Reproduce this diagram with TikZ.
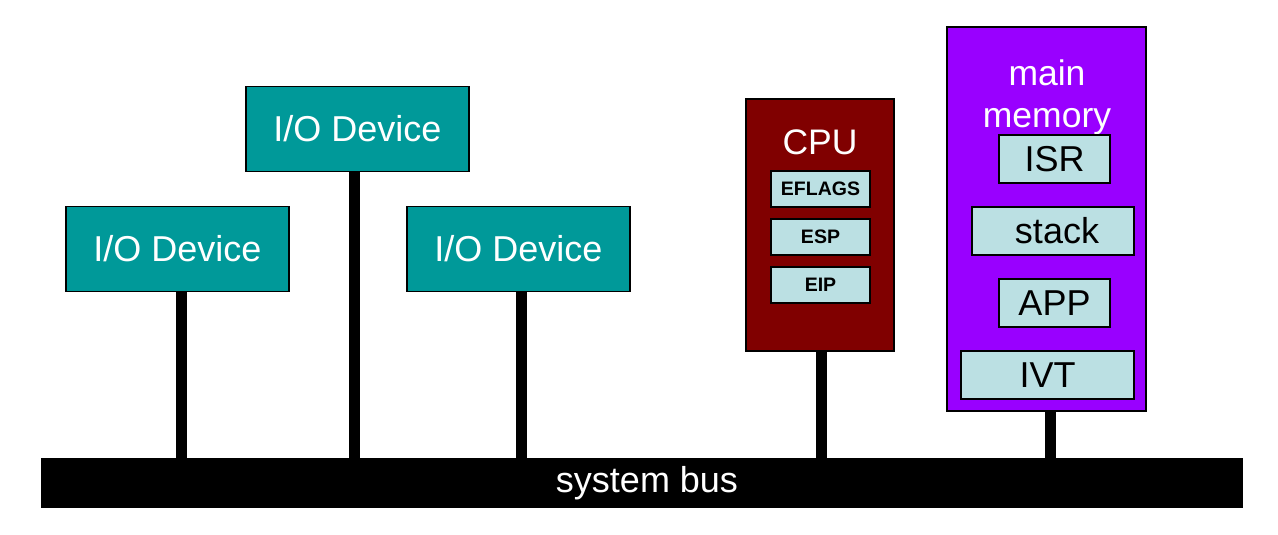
\documentclass[tikz,border=0pt]{standalone}
\usepackage{fontspec}
\setmainfont{Liberation Sans}
\definecolor{teal1}{HTML}{009999}
\definecolor{cpured}{HTML}{800000}
\definecolor{mempurple}{HTML}{9900FF}
\definecolor{regblue}{HTML}{BBE0E3}
\begin{document}
\begin{tikzpicture}[x=1pt,y=-1pt,
  box/.style={draw=black,line width=1.8pt,inner sep=0pt,outer sep=0pt},
  iodev/.style={box,fill=teal1,text=white,minimum width=223pt,minimum height=85pt,font=\fontsize{36}{40}\selectfont},
  reg/.style={box,fill=regblue,text=black,minimum width=99pt,minimum height=36pt,font=\fontsize{19.5}{20}\selectfont\bfseries},
  memblk/.style={box,fill=regblue,text=black,minimum height=48pt,font=\fontsize{36}{40}\selectfont},
  stem/.style={line width=11pt,draw=black},
  bigtext/.style={text=white,font=\fontsize{35.5}{42}\selectfont,align=center,inner sep=0pt}
]
\useasboundingbox (0,0) rectangle (1278,535);
% bus
\node[fill=black,text=white,minimum width=1202pt,minimum height=50pt,inner sep=0pt,outer sep=0pt,font=\fontsize{36}{40}\selectfont] (bus) at (642,483) {\hspace*{10pt}\raisebox{-3pt}{system bus}};
% I/O devices
\node[iodev] (io1) at (177.5,249) {I/O Device};
\node[iodev] (io2) at (357.5,129) {I/O Device};
\node[iodev] (io3) at (518.5,249) {I/O Device};
% CPU
\node[box,fill=cpured,minimum width=148pt,minimum height=252pt] (cpu) at (820,225) {};
\node[bigtext] (cpulbl) at (820,142) {CPU};
\node[reg] (eflags) at (820.5,189) {EFLAGS};
\node[reg] (esp) at (820.5,237) {ESP};
\node[reg] (eip) at (820.5,285) {EIP};
% memory
\node[box,fill=mempurple,minimum width=199pt,minimum height=384pt] (mem) at (1046.5,219) {};
\node[bigtext] (memlbl) at (1047,97) {main\\memory};
\node[memblk,minimum width=111pt] (isr) at (1054.5,159) {ISR};
\node[memblk,minimum width=162pt] (stack) at (1053,231) {\hspace*{8pt}stack};
\node[memblk,minimum width=111pt] (app) at (1054.5,303) {APP};
\node[memblk,minimum width=173pt] (ivt) at (1047.5,375) {IVT};
% stems
\draw[stem] ([xshift=3.5pt]io1.south) -- ([xshift=3.5pt]io1.south |- bus.north);
\draw[stem] ([xshift=-3.5pt]io2.south) -- ([xshift=-3.5pt]io2.south |- bus.north);
\draw[stem] ([xshift=2.5pt]io3.south) -- ([xshift=2.5pt]io3.south |- bus.north);
\draw[stem] ([xshift=1pt]cpu.south) -- ([xshift=1pt]cpu.south |- bus.north);
\draw[stem] ([xshift=3.5pt]mem.south) -- ([xshift=3.5pt]mem.south |- bus.north);
\end{tikzpicture}
\end{document}
